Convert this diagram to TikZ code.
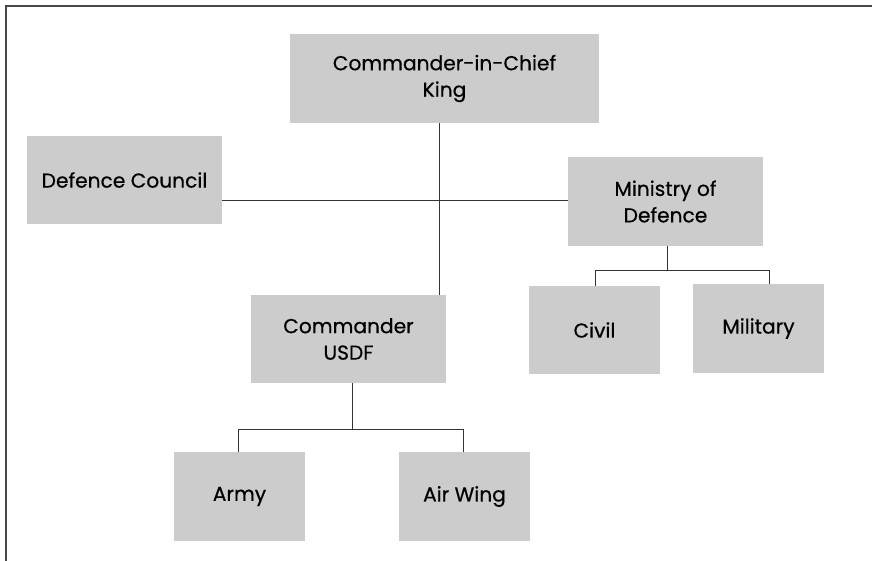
\documentclass[tikz,border=0pt]{standalone}
\usepackage{fontspec}
\setmainfont{Poppins}[FakeBold=0.5]
\begin{document}
\begin{tikzpicture}[x=1pt,y=-1pt,
  unit/.style={rectangle,fill=boxgray,draw=none,inner sep=0pt,align=center,
    font=\fontsize{20.2}{26.5}\selectfont},
  link/.style={draw=linegray,line width=1pt},
  frame/.style={draw=framegray,line width=2pt}]
\definecolor{boxgray}{HTML}{CCCCCC}
\definecolor{linegray}{HTML}{333333}
\definecolor{framegray}{HTML}{484848}
\useasboundingbox (0,0) rectangle (872,561);
\fill[white] (0,0) rectangle (872,561);
\draw[frame] (6,562) -- (6,6.5) -- (873,6.5);
\node[unit,minimum width=309pt,minimum height=89pt] (cic) at (444.5,78.5) {Commander-in-Chief\\King};
\node[unit,minimum width=195pt,minimum height=88pt] (dc) at (124.5,180) {Defence Council};
\node[unit,minimum width=195pt,minimum height=89pt] (mod) at (665.5,201.5) {Ministry of\\Defence};
\node[unit,minimum width=195pt,minimum height=88pt] (usdf) at (348.5,339) {Commander\\USDF};
\node[unit,minimum width=131pt,minimum height=88pt] (civ) at (594.5,330) {Civil};
\node[unit,minimum width=131pt,minimum height=89pt] (mil) at (758.5,328.5) {Military};
\node[unit,minimum width=131pt,minimum height=89pt] (army) at (239.5,496.5) {Army};
\node[unit,minimum width=131pt,minimum height=89pt] (air) at (464.5,496.5) {Air Wing};
\coordinate (top) at (439,123);
\draw[link] (top) -- (top |- usdf.north);
\draw[link] (dc.east |- 0,200.5) -- (mod.west |- 0,200.5);
\coordinate (modj) at (667,270);
\draw[link] (mod.south -| modj) -- (modj);
\draw[link] (civ.north -| 595,0) -- (595,270) -- (769,270) -- (mil.north -| 769,0);
\coordinate (usdfj) at (352,429);
\draw[link] (usdf.south -| usdfj) -- (usdfj);
\draw[link] (army.north -| 238,0) -- (238,429) -- (463,429) -- (air.north -| 463,0);
\end{tikzpicture}
\end{document}
